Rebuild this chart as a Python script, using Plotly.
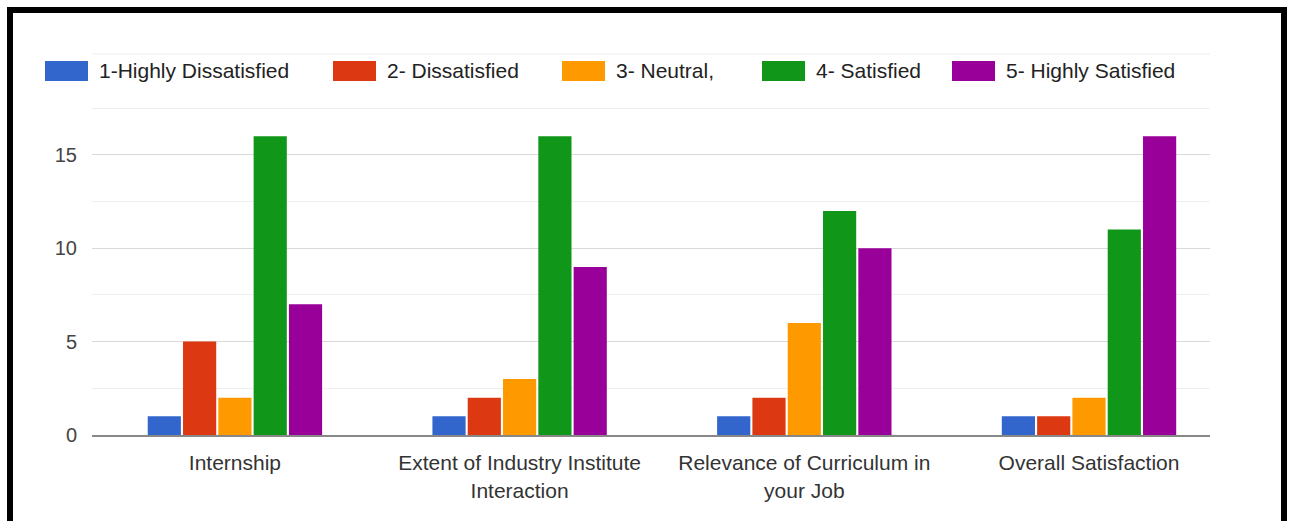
import plotly.graph_objects as go

categories = ["Internship", "Extent of Industry Institute<br>Interaction",
              "Relevance of Curriculum in<br>your Job", "Overall Satisfaction"]
series_names = ["1-Highly Dissatisfied", "2- Dissatisfied", "3- Neutral,", "4- Satisfied", "5- Highly Satisfied"]
highly_dissatisfied = [1, 1, 1, 1]
dissatisfied = [5, 2, 2, 1]
neutral = [2, 3, 6, 2]
satisfied = [16, 16, 12, 11]
highly_satisfied = [7, 9, 10, 16]
y_ticks = [0, 5, 10, 15]
y_minor = [2.5, 7.5, 12.5, 17.5]

colors = ["#3366cc", "#dc3912", "#ff9900", "#109618", "#990099"]
series_values = [highly_dissatisfied, dissatisfied, neutral, satisfied, highly_satisfied]

W, H = 1291, 521
L, R, T, B = 92, 81, 54, 86
pw, ph = W - L - R, H - T - B

def px_x(x):
    return (x - L) / pw

def px_y(y):
    return (H - B - y) / ph

FONT = "Liberation Sans, Arial, sans-serif"

fig = go.Figure()
for name, vals, c in zip(series_names, series_values, colors):
    fig.add_trace(go.Bar(x=categories, y=vals, name=name, marker=dict(color=c, line=dict(width=0)),
                         showlegend=False))

shapes = []
annotations = []
# manual legend (wide swatches like the original)
legend_x = [45, 333, 562, 762, 952]
for name, c, lx in zip(series_names, colors, legend_x):
    shapes.append(dict(type="rect", xref="paper", yref="paper",
                       x0=px_x(lx), x1=px_x(lx + 43), y0=px_y(81), y1=px_y(61),
                       fillcolor=c, line=dict(width=0)))
    annotations.append(dict(text=name, xref="paper", yref="paper", x=px_x(lx + 52), y=px_y(71),
                            xanchor="left", yanchor="middle", showarrow=False,
                            font=dict(family=FONT, size=21, color="#222222")))
# top line of chart area
shapes.append(dict(type="line", xref="paper", yref="paper", x0=0, x1=1, y0=1, y1=1,
                   line=dict(color="#eeeeee", width=1)))
# black frame
shapes.append(dict(type="rect", xref="paper", yref="paper",
                   x0=px_x(10), x1=px_x(1284), y0=px_y(560), y1=px_y(10),
                   line=dict(color="black", width=6), fillcolor="rgba(0,0,0,0)", layer="above"))

fig.update_layout(
    width=W, height=H,
    margin=dict(l=L, r=R, t=T, b=B),
    paper_bgcolor="white", plot_bgcolor="white",
    barmode="group", bargap=0.38, bargroupgap=0.06,
    font=dict(family=FONT, size=20, color="#444444"),
    shapes=shapes, annotations=annotations,
    xaxis=dict(range=[-0.502, 3.425], showgrid=False, showline=True, linecolor="#888888",
               linewidth=2, ticks="", ticklabelstandoff=8,
               tickfont=dict(family=FONT, size=21, color="#333333")),
    yaxis=dict(range=[0, 20.4], tickvals=y_ticks, showgrid=True, gridcolor="#d9d9d9", gridwidth=1,
               zeroline=False, ticks="", ticklabelstandoff=14,
               tickfont=dict(family=FONT, size=20, color="#444444"),
               minor=dict(tickvals=y_minor, showgrid=True, gridcolor="#efefef", gridwidth=1)),
)

fig.write_html("out.html")
